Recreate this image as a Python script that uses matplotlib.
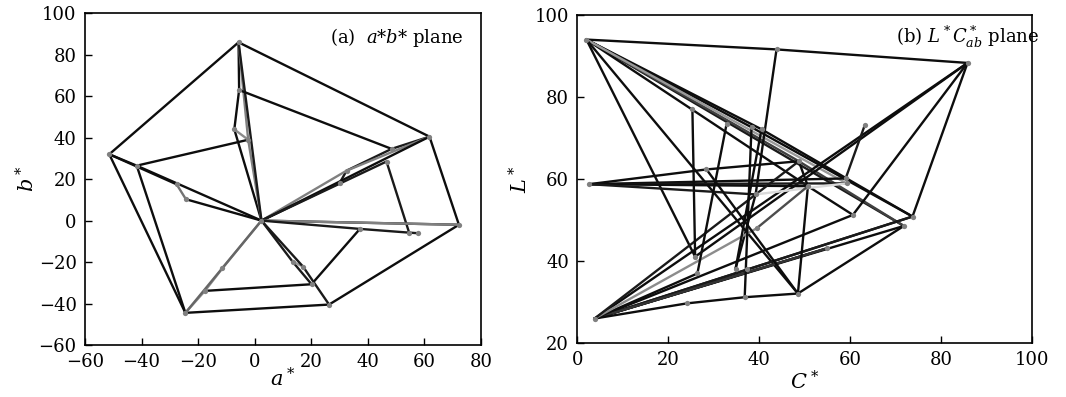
import matplotlib
matplotlib.use("Agg")
import matplotlib.pyplot as plt

# --- DATA: panel (a), a*b* plane ---
a_star = [-5.7, 61.8, 72.2, 26.3, -24.5, -51.4, 2.4, -41.7, -5.5, -7.2, -2.3,
          48.4, 46.6, 32.5, 30.1, -27.6, -24.3, 37.2, 54.6, 57.9, -11.4, -17.6,
          13.4, 17.1, 20.1]
b_star = [86.0, 40.5, -2.0, -40.5, -44.5, 32.0, 0.0, 26.5, 63.0, 44.0, 39.0,
          34.6, 28.5, 24.1, 18.3, 17.5, 10.3, -4.0, -5.8, -6.1, -23.0, -33.9,
          -19.8, -22.2, -30.7]
# paths through the nodes above
a_paths = [
    [0, 1, 2, 3, 4, 5, 0],
    [5, 7, 6], [7, 10], [7, 4],
    [5, 15], [15, 16], [16, 6],
    [6, 9, 8, 0], [9, 10], [6, 10, 0], [6, 0],
    [8, 11],
    [6, 14, 13, 11, 1], [6, 13, 1], [6, 1], [6, 12, 18],
    [6, 2], [6, 2], [6, 17, 18, 19],
    [17, 24, 21],
    [6, 22, 24], [22, 23], [6, 23, 3],
    [6, 20, 21, 4], [6, 4],
]
a_shade = ["0.05", "0.05", "0.05", "0.05",
           "0.05", "0.45", "0.05",
           "0.05", "0.55", "0.5", "0.1",
           "0.05",
           "0.1", "0.5", "0.05", "0.1",
           "0.1", "0.5", "0.1",
           "0.05",
           "0.1", "0.6", "0.1",
           "0.55", "0.4"]

# --- DATA: panel (b), L*C* plane ---
c_star = [2.0, 85.8, 43.8, 2.6, 3.8, 25.3, 32.8, 38.3, 40.5, 63.2, 28.4, 48.7,
          50.7, 59.0, 59.2, 39.2, 60.6, 73.7, 71.8, 39.4, 54.8, 25.9, 26.4,
          34.8, 37.2, 48.5, 36.8, 24.1]
l_star = [94.0, 88.3, 91.6, 58.7, 25.9, 77.0, 73.3, 72.6, 72.1, 73.1, 62.3, 64.3,
          58.2, 60.1, 58.9, 56.2, 51.2, 50.8, 48.5, 47.9, 43.0, 41.0, 36.9,
          38.1, 38.1, 32.0, 31.1, 29.6]
b_paths = [
    [0, 2, 1],
    [0, 7, 17], [0, 8, 17], [0, 18], [0, 11, 18], [0, 12, 16], [0, 14],
    [0, 25], [0, 21],
    [1, 17], [1, 16], [1, 21],
    [2, 15, 23],
    [3, 10, 11], [3, 13], [3, 14], [3, 12], [3, 15],
    [4, 1], [4, 16], [4, 17], [4, 17], [4, 18], [4, 20], [4, 20], [4, 20],
    [4, 27, 26, 25], [4, 22], [4, 19], [4, 11],
    [5, 21], [6, 22], [7, 26], [8, 23], [12, 25], [10, 25],
    [13, 9], [15, 14], [19, 12], [25, 18], [11, 12],
]
b_shade = ["0.05",
           "0.05", "0.05", "0.1", "0.25", "0.05", "0.6",
           "0.05", "0.05",
           "0.05", "0.05", "0.05",
           "0.05",
           "0.05", "0.05", "0.1", "0.05", "0.1",
           "0.05", "0.05", "0.05", "0.1", "0.05", "0.05", "0.1", "0.2",
           "0.05", "0.05", "0.55", "0.1",
           "0.05", "0.05", "0.05", "0.05", "0.05", "0.05",
           "0.1", "0.85", "0.3", "0.05", "0.05"]

plt.rcParams["font.family"] = ["DejaVu Serif"]
plt.rcParams["mathtext.fontset"] = "dejavuserif"
plt.rcParams["font.size"] = 13

fig = plt.figure(figsize=(10.66, 3.97), dpi=100)
ax1 = fig.add_axes([0.0797, 0.131, 0.3715, 0.8355])
ax2 = fig.add_axes([0.5416, 0.1368, 0.4266, 0.8254])


def draw_network(ax, xs, ys, paths, shades):
    for path, shade in zip(paths, shades):
        ax.plot([xs[i] for i in path], [ys[i] for i in path],
                color=shade, lw=1.7, solid_capstyle="round")
    ax.plot(xs, ys, "o", ms=3.8, color="0.5", mec="none", zorder=3)


draw_network(ax1, a_star, b_star, a_paths, a_shade)
draw_network(ax2, c_star, l_star, b_paths, b_shade)

ax1.set_xlim(-60, 80)
ax1.set_ylim(-60, 100)
ax1.set_xticks(range(-60, 81, 20))
ax1.set_yticks(range(-60, 101, 20))
ax1.set_xlabel(r"$a^*$", fontsize=15, labelpad=-3)
ax1.set_ylabel(r"$b^*$", fontsize=15, labelpad=0)
ax1.text(0.62, 0.928, r"(a)  $a$*$b$* plane", transform=ax1.transAxes,
         ha="left", va="center")

ax2.set_xlim(0, 100)
ax2.set_ylim(20, 100)
ax2.set_xticks(range(0, 101, 20))
ax2.set_yticks(range(20, 101, 20))
ax2.set_xlabel(r"$C^*$", fontsize=15, labelpad=1)
ax2.set_ylabel(r"$L^*$", fontsize=15, labelpad=2)
ax2.text(0.70, 0.933, r"(b) $L^*C^*_{ab}$ plane", transform=ax2.transAxes,
         ha="left", va="center", clip_on=False)

for ax in (ax1, ax2):
    ax.tick_params(direction="in", length=5, width=1, pad=6)
    for s in ax.spines.values():
        s.set_linewidth(1.2)

fig.savefig("out.png", dpi=100)
